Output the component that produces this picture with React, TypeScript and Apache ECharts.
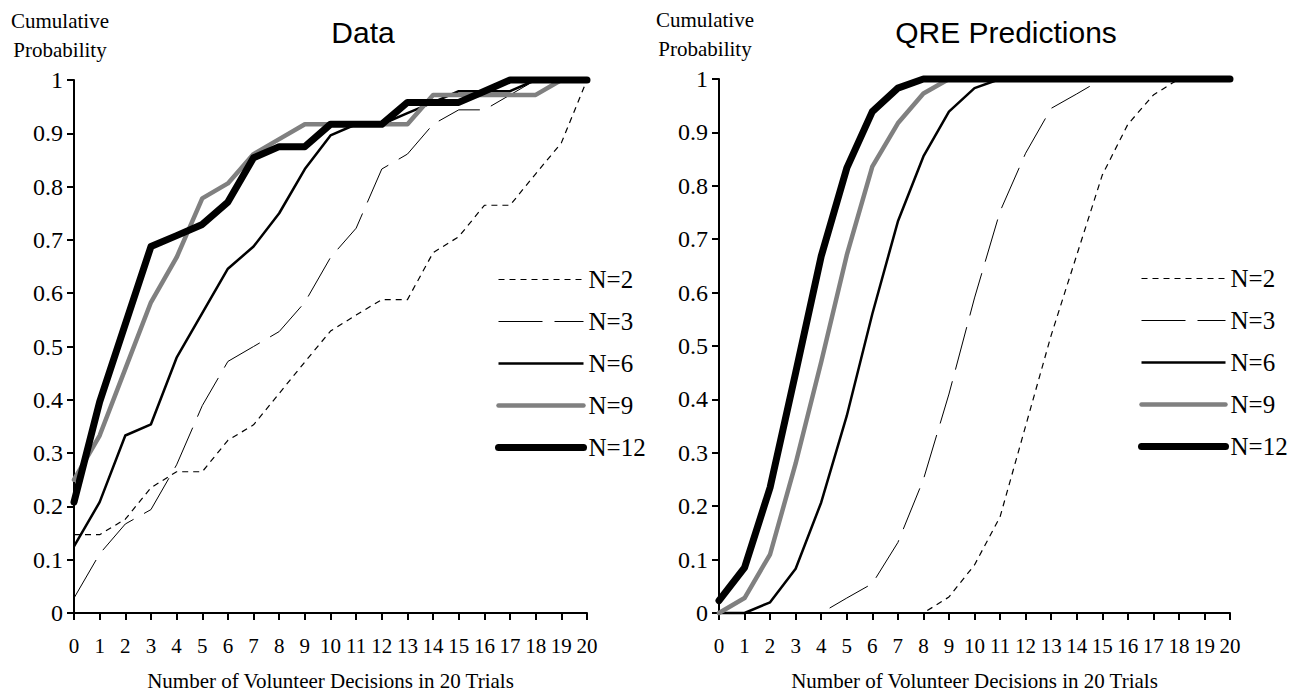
import React, { useEffect, useRef } from 'react';
import * as echarts from 'echarts';

// ---------- data ----------
const categories = ['0', '1', '2', '3', '4', '5', '6', '7', '8', '9', '10', '11', '12', '13', '14', '15', '16', '17', '18', '19', '20'];
const seriesNames = ['N=2', 'N=3', 'N=6', 'N=9', 'N=12'];

// Left panel: observed data
const dataN2 = [0.147, 0.147, 0.176, 0.235, 0.265, 0.265, 0.324, 0.353, 0.412, 0.471, 0.529, 0.559, 0.588, 0.588, 0.676, 0.706, 0.765, 0.765, 0.824, 0.882, 1];
const dataN3 = [0.028, 0.111, 0.167, 0.194, 0.278, 0.389, 0.472, 0.5, 0.528, 0.583, 0.667, 0.722, 0.833, 0.861, 0.917, 0.944, 0.944, 0.972, 1, 1, 1];
const dataN6 = [0.125, 0.208, 0.333, 0.354, 0.479, 0.5625, 0.646, 0.6875, 0.75, 0.833, 0.896, 0.917, 0.917, 0.938, 0.958, 0.979, 0.979, 0.979, 1, 1, 1];
const dataN9 = [0.25, 0.333, 0.458, 0.583, 0.667, 0.778, 0.806, 0.861, 0.889, 0.917, 0.917, 0.917, 0.917, 0.917, 0.972, 0.972, 0.972, 0.972, 0.972, 1, 1];
const dataN12 = [0.208, 0.396, 0.542, 0.6875, 0.708, 0.729, 0.771, 0.854, 0.875, 0.875, 0.917, 0.917, 0.917, 0.958, 0.958, 0.958, 0.979, 1, 1, 1, 1];

// Right panel: QRE predictions
const qreN2 = [0, 0, 0, 0, 0, 0, 0, 0, 0, 0.03, 0.09, 0.18, 0.35, 0.52, 0.67, 0.82, 0.915, 0.97, 1, 1, 1];
const qreN3 = [0, 0, 0, 0, 0, 0.028, 0.055, 0.132, 0.25, 0.41, 0.59, 0.752, 0.861, 0.945, 0.972, 1, 1, 1, 1, 1, 1];
const qreN6 = [0, 0, 0.02, 0.083, 0.207, 0.369, 0.56, 0.733, 0.855, 0.939, 0.983, 1, 1, 1, 1, 1, 1, 1, 1, 1, 1];
const qreN9 = [0, 0.028, 0.11, 0.28, 0.47, 0.67, 0.836, 0.917, 0.973, 1, 1, 1, 1, 1, 1, 1, 1, 1, 1, 1, 1];
const qreN12 = [0.023, 0.085, 0.235, 0.45, 0.668, 0.833, 0.939, 0.983, 1, 1, 1, 1, 1, 1, 1, 1, 1, 1, 1, 1, 1];

const leftData = [dataN2, dataN3, dataN6, dataN9, dataN12];
const rightData = [qreN2, qreN3, qreN6, qreN9, qreN12];

// ---------- styles ----------
const lineStyles: any[] = [
  { color: '#000000', width: 1.2, type: [6, 5], cap: 'butt' },
  { color: '#000000', width: 1, type: [44, 12], cap: 'butt' },
  { color: '#000000', width: 2.5, type: 'solid', cap: 'butt' },
  { color: '#808080', width: 4.5, type: 'solid', cap: 'round' },
  { color: '#000000', width: 7, type: 'solid', cap: 'round' },
];

const SERIF = '"Liberation Serif", "Times New Roman", serif';
const SANS = '"Liberation Sans", Arial, sans-serif';

function makeXAxis(gridIndex: number) {
  return {
    type: 'category',
    gridIndex,
    data: categories,
    boundaryGap: false,
    axisLine: { show: true, onZero: false, lineStyle: { color: '#000', width: 2 } },
    axisTick: { show: true, interval: 0, length: 7, lineStyle: { color: '#000', width: 2 } },
    axisLabel: { interval: 0, margin: 22, color: '#000', fontFamily: SERIF, fontSize: 21 },
    splitLine: { show: false },
    name: 'Number of Volunteer Decisions in 20 Trials',
    nameLocation: 'middle',
    nameGap: 57,
    nameTextStyle: { color: '#000', fontFamily: SERIF, fontSize: 21 },
  };
}

function makeYAxis(gridIndex: number) {
  return {
    type: 'value',
    gridIndex,
    min: 0,
    max: 1,
    interval: 0.1,
    axisLine: { show: true, lineStyle: { color: '#000', width: 2 } },
    axisTick: { show: true, length: 7, lineStyle: { color: '#000', width: 2 } },
    axisLabel: {
      margin: 11,
      color: '#000',
      fontFamily: SERIF,
      fontSize: 24,
      formatter: (v: number) => String(Math.round(v * 10) / 10),
    },
    splitLine: { show: false },
    name: 'Cumulative\nProbability',
    nameLocation: 'end',
    nameGap: 16,
    nameTextStyle: {
      color: '#000',
      fontFamily: SERIF,
      fontSize: 21,
      lineHeight: 29,
      align: 'center',
      padding: [0, 28, 0, 0],
    },
  };
}

function makeSeries(data: number[][], axisIndex: number) {
  return data.map((values, i) => ({
    type: 'line',
    name: seriesNames[i],
    xAxisIndex: axisIndex,
    yAxisIndex: axisIndex,
    data: values,
    symbol: 'none',
    showSymbol: false,
    clip: false,
    silent: true,
    lineStyle: { ...lineStyles[i], join: 'round' },
    itemStyle: { color: lineStyles[i].color },
    z: 2 + i,
  }));
}

function makeLegend(left: number, top: number, itemWidth: number) {
  return {
    orient: 'vertical',
    left,
    top,
    itemWidth,
    itemHeight: 14,
    itemGap: 17,
    selectedMode: false,
    padding: 0,
    textStyle: { color: '#000', fontFamily: SERIF, fontSize: 25 },
    data: seriesNames.map((name, i) => ({
      name,
      itemStyle: { opacity: 0, color: 'transparent', borderWidth: 0 },
      lineStyle: {
        color: lineStyles[i].color,
        width: lineStyles[i].width,
        type: lineStyles[i].type,
        cap: lineStyles[i].cap,
        opacity: 1,
      },
    })),
  };
}

export default function App() {
  const ref = useRef<HTMLDivElement>(null);

  useEffect(() => {
    if (!ref.current) return;
    const chart = echarts.init(ref.current, undefined, { renderer: 'svg' });
    const option: any = {
      animation: false,
      backgroundColor: '#ffffff',
      title: [
        {
          text: 'Data',
          left: 363,
          top: 17,
          textAlign: 'center',
          padding: 0,
          textStyle: { color: '#000', fontFamily: SANS, fontSize: 30, fontWeight: 'normal' },
        },
        {
          text: 'QRE Predictions',
          left: 1006,
          top: 17,
          textAlign: 'center',
          padding: 0,
          textStyle: { color: '#000', fontFamily: SANS, fontSize: 30, fontWeight: 'normal' },
        },
      ],
      legend: [makeLegend(495, 267, 85), makeLegend(1138, 266, 84)],
      grid: [
        { left: 74, top: 80, width: 513, height: 536, containLabel: false },
        { left: 719, top: 79, width: 511, height: 535, containLabel: false },
      ],
      xAxis: [makeXAxis(0), makeXAxis(1)],
      yAxis: [makeYAxis(0), makeYAxis(1)],
      series: [...makeSeries(leftData, 0), ...makeSeries(rightData, 1)],
    };
    chart.setOption(option);
    return () => {
      chart.dispose();
    };
  }, []);

  return (
    <div
      ref={ref}
      style={{ position: 'fixed', left: 0, top: 0, width: 1290, height: 696, background: '#fff' }}
    />
  );
}
